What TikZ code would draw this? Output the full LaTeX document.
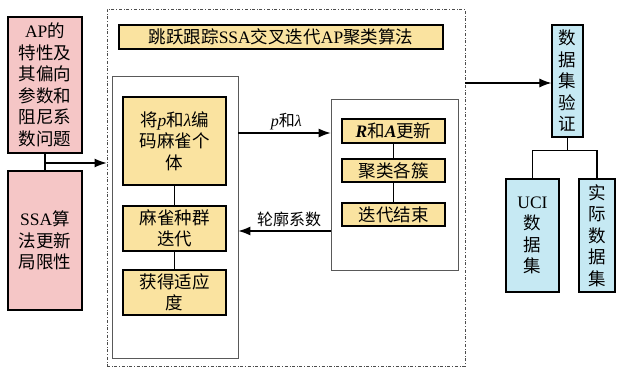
\documentclass[tikz,border=0pt]{standalone}
\usepackage{fontspec}
\setmainfont{Noto Sans CJK SC}
\newfontfamily\enfont{Liberation Serif}
\usetikzlibrary{arrows.meta}
\definecolor{pinkf}{RGB}{245,198,198}
\definecolor{yelf}{RGB}{250,227,160}
\definecolor{bluef}{RGB}{198,233,243}
\newcommand\en[1]{{\enfont #1}}
\newcommand\enit[1]{{\enfont\itshape #1}}
\begin{document}
\begin{tikzpicture}[x=1pt,y=-1pt,
 box/.style={draw=black,line width=1.2pt,inner sep=0pt,align=center,font=\fontsize{17.5}{21.5}\selectfont},
 pbox/.style={box,fill=pinkf},
 ybox/.style={box,fill=yelf},
 bbox/.style={box,fill=bluef},
 wbox/.style={draw=gray!70!black,line width=0.8pt,fill=white,inner sep=0pt},
 arr/.style={-{Latex[length=12pt,width=9pt]},line width=1.1pt},
 con/.style={line width=1.1pt},
 lbl/.style={font=\fontsize{16}{18}\selectfont,inner sep=1pt}]
\useasboundingbox (0,0) rectangle (617,369);
% frame
\node[draw=gray!60!black,dash dot,line width=0.9pt,minimum width=358pt,minimum height=357pt,inner sep=0pt] (fr) at (286,187.5) {};
% left pink boxes
\node[pbox,minimum width=74pt,minimum height=136pt] (p1) at (45,85) {\en{AP}的\\特性及\\其偏向\\参数和\\阻尼系\\数问题};
\node[pbox,minimum width=74pt,minimum height=139pt] (p2) at (45,240.5) {\en{SSA}算\\法更新\\局限性};
\draw[con] (p1.south) -- (p2.north);
\coordinate (jy) at (0,163);
\coordinate (j) at (p1.south |- jy);
\draw[arr] (j) -- (j -| fr.west);
% title
\node[ybox,minimum width=324pt,minimum height=24pt] (t) at (281,37) {跳跃跟踪\en{SSA}交叉迭代\en{AP}聚类算法};
% left inner box
\node[wbox,minimum width=126pt,minimum height=282pt] (lb) at (175,217) {};
\node[ybox,minimum width=103pt,minimum height=88pt] (y1) at (174.5,141) {将\enit{p}和\enit{λ}编\\码麻雀个\\体};
\node[ybox,minimum width=103pt,minimum height=45pt] (y2) at (174.5,228.5) {麻雀种群\\迭代};
\node[ybox,minimum width=103pt,minimum height=45pt] (y3) at (174.5,292.5) {获得适应\\度};
\draw[con] (y1.south) -- (y2.north);
\draw[con] (y2.south) -- (y3.north);
% right inner box
\node[wbox,minimum width=127pt,minimum height=171pt] (rb) at (394.5,184.5) {};
\node[ybox,minimum width=103pt,minimum height=24pt] (a1) at (393.5,131) {\en{\bfseries\itshape R}和\en{\bfseries\itshape A}更新};
\node[ybox,minimum width=103pt,minimum height=23pt] (a2) at (393.5,170.5) {聚类各簇};
\node[ybox,minimum width=103pt,minimum height=23pt] (a3) at (393.5,214.5) {迭代结束};
\draw[con] (a1.south) -- (a2.north);
\draw[con] (a2.south) -- (a3.north);
% arrows between inner boxes
\coordinate (ya) at (0,133);
\coordinate (yb) at (0,231);
\draw[arr] (lb.east |- ya) -- node[lbl,above=2pt,pos=0.52] {\enit{p}和\enit{λ}} (rb.west |- ya);
\draw[arr] (rb.west |- yb) -- node[lbl,above=3pt,pos=0.45] {轮廓系数} (lb.east |- yb);
% right blue boxes
\node[bbox,minimum width=31pt,minimum height=112pt] (d) at (567.5,81) {数\\据\\集\\验\\证};
\node[bbox,minimum width=53pt,minimum height=113pt] (u) at (532.5,235.5) {\en{UCI}\\数\\据\\集};
\node[bbox,minimum width=36pt,minimum height=113pt] (r) at (597,235.5) {实\\际\\数\\据\\集};
\coordinate (yd) at (0,83);
\draw[arr] (fr.east |- yd) -- (d.west |- yd);
\draw[con] (d.south) -- ++(0,13) coordinate (m) -| (u.north);
\draw[con] (m) -| (r.north);
\end{tikzpicture}
\end{document}
